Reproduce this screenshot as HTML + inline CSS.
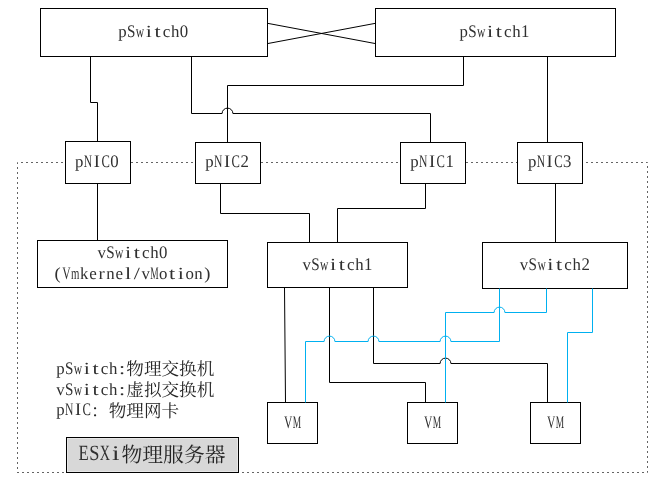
<!DOCTYPE html>
<html lang="zh-CN">
<head>
<meta charset="utf-8">
<title>ESXi network topology</title>
<style>
html,body{margin:0;padding:0;background:#fff;}
body{width:666px;height:493px;overflow:hidden;}
svg{display:block;will-change:transform;}
.ln{fill:none;stroke:#000;stroke-width:1;}
.bl{fill:none;stroke:#00B0F0;stroke-width:1;}
.bx{fill:#fff;stroke:#000;stroke-width:1;}
.dt{fill:none;stroke:#646464;stroke-width:1;stroke-dasharray:2 3;}
text{font-family:"Liberation Serif",serif;fill:#303030;text-rendering:geometricPrecision;}
.t{font-size:17px;}
.b{font-size:20.8px;}
.u{font-size:104.5%;}
.cj{fill:#262626;font-family:"Liberation Serif","Noto Serif CJK SC",serif;}
</style>
</head>
<body>
<svg width="666" height="493" viewBox="0 0 666 493">
<rect x="0" y="0" width="666" height="493" fill="#fff"/>
<path class="dt" d="M17,472.5 H647.5 V162.5 H17.5 V472.5"/>
<g>
<rect class="bx" x="40.5" y="8.5" width="227.0" height="48.0"/>
<rect class="bx" x="375.5" y="8.5" width="240.0" height="48.0"/>
<rect class="bx" x="65.5" y="141.5" width="65.0" height="42.0"/>
<rect class="bx" x="195.5" y="142.5" width="65.0" height="41.0"/>
<rect class="bx" x="400.5" y="142.5" width="65.0" height="41.0"/>
<rect class="bx" x="517.5" y="142.5" width="65.0" height="41.0"/>
<rect class="bx" x="37.5" y="240.5" width="190.0" height="47.0"/>
<rect class="bx" x="267.5" y="242.5" width="140.0" height="45.0"/>
<rect class="bx" x="482.5" y="242.5" width="145.0" height="46.0"/>
<rect class="bx" x="267.5" y="402.5" width="50.0" height="41.0"/>
<rect class="bx" x="407.5" y="402.5" width="50.0" height="41.0"/>
<rect class="bx" x="530.5" y="402.5" width="50.0" height="41.0"/>
</g>
<g class="ln">
<path d="M267.5,23.3 L375.5,43.6"/>
<path d="M267.5,43.6 L375.5,23.3"/>
<path d="M90.5,56.5 V102.5 H97.5 V141.5"/>
<path d="M191.5,56.5 V113.5 H222.1 A5.4,5.4 0 0 1 232.9,113.5 H430.5 V142.5"/>
<path d="M463.5,56.5 V85.5 H227.5 V142.5"/>
<path d="M547.5,56.5 V142.5"/>
<path d="M97.5,183.5 V240.5"/>
<path d="M220.5,183.5 V213.5 H309.5 V242.5"/>
<path d="M425.5,183.5 V208.5 H337.5 V242.5"/>
<path d="M555.5,183.5 V242.5"/>
<path d="M284.5,287.5 L285.5,402.5"/>
<path d="M329.5,287.5 V382.5 H425.5 V402.5"/>
<path d="M373.5,287.5 V363.5 H440.1 A5.4,5.4 0 0 1 450.9,363.5 H547.5 V402.5"/>
</g>
<g class="bl">
<path d="M499.5,288.5 V341.5 H450.9 A5.4,5.4 0 0 0 440.1,341.5 H378.9 A5.4,5.4 0 0 0 368.1,341.5 H334.9 A5.4,5.4 0 0 0 324.1,341.5 H305.5 V402.5"/>
<path d="M546.5,288.5 V312.5 H504.9 A5.4,5.4 0 0 0 494.1,312.5 H445.5 V402.5"/>
<path d="M592.5,288.5 V332.5 H567.5 V402.5"/>
</g>
<rect x="66.5" y="437.5" width="172.0" height="35.0" fill="#D8D8D8" stroke="#000" stroke-width="1"/>
<rect x="67.5" y="438.5" width="170.0" height="33.0" fill="none" stroke="#E7E7E7" stroke-width="1"/>
<text class="t" y="37.3"><tspan x="118.20" textLength="8.40" lengthAdjust="spacingAndGlyphs">p</tspan><tspan class="u" x="127.00" textLength="8.40" lengthAdjust="spacingAndGlyphs">S</tspan><tspan x="135.80" textLength="8.40" lengthAdjust="spacingAndGlyphs">w</tspan><tspan x="145.72" textLength="6.16" lengthAdjust="spacingAndGlyphs">i</tspan><tspan x="154.52" textLength="6.16" lengthAdjust="spacingAndGlyphs">t</tspan><tspan x="162.63" textLength="7.55" lengthAdjust="spacingAndGlyphs">c</tspan><tspan x="171.00" textLength="8.40" lengthAdjust="spacingAndGlyphs">h</tspan><tspan class="u" x="179.80" textLength="8.40" lengthAdjust="spacingAndGlyphs">0</tspan></text>
<text class="t" y="37.3"><tspan x="459.50" textLength="8.40" lengthAdjust="spacingAndGlyphs">p</tspan><tspan class="u" x="468.30" textLength="8.40" lengthAdjust="spacingAndGlyphs">S</tspan><tspan x="477.10" textLength="8.40" lengthAdjust="spacingAndGlyphs">w</tspan><tspan x="487.02" textLength="6.16" lengthAdjust="spacingAndGlyphs">i</tspan><tspan x="495.82" textLength="6.16" lengthAdjust="spacingAndGlyphs">t</tspan><tspan x="503.93" textLength="7.55" lengthAdjust="spacingAndGlyphs">c</tspan><tspan x="512.30" textLength="8.40" lengthAdjust="spacingAndGlyphs">h</tspan><tspan class="u" x="521.10" textLength="8.40" lengthAdjust="spacingAndGlyphs">1</tspan></text>
<text class="t" y="167.2"><tspan x="75.00" textLength="8.40" lengthAdjust="spacingAndGlyphs">p</tspan><tspan class="u" x="83.80" textLength="8.40" lengthAdjust="spacingAndGlyphs">N</tspan><tspan class="u" x="93.72" textLength="6.16" lengthAdjust="spacingAndGlyphs">I</tspan><tspan class="u" x="101.40" textLength="8.40" lengthAdjust="spacingAndGlyphs">C</tspan><tspan class="u" x="110.20" textLength="8.40" lengthAdjust="spacingAndGlyphs">0</tspan></text>
<text class="t" y="167.2"><tspan x="205.20" textLength="8.40" lengthAdjust="spacingAndGlyphs">p</tspan><tspan class="u" x="214.00" textLength="8.40" lengthAdjust="spacingAndGlyphs">N</tspan><tspan class="u" x="223.92" textLength="6.16" lengthAdjust="spacingAndGlyphs">I</tspan><tspan class="u" x="231.60" textLength="8.40" lengthAdjust="spacingAndGlyphs">C</tspan><tspan class="u" x="240.40" textLength="8.40" lengthAdjust="spacingAndGlyphs">2</tspan></text>
<text class="t" y="167.2"><tspan x="410.20" textLength="8.40" lengthAdjust="spacingAndGlyphs">p</tspan><tspan class="u" x="419.00" textLength="8.40" lengthAdjust="spacingAndGlyphs">N</tspan><tspan class="u" x="428.92" textLength="6.16" lengthAdjust="spacingAndGlyphs">I</tspan><tspan class="u" x="436.60" textLength="8.40" lengthAdjust="spacingAndGlyphs">C</tspan><tspan class="u" x="445.40" textLength="8.40" lengthAdjust="spacingAndGlyphs">1</tspan></text>
<text class="t" y="167.2"><tspan x="527.90" textLength="8.40" lengthAdjust="spacingAndGlyphs">p</tspan><tspan class="u" x="536.70" textLength="8.40" lengthAdjust="spacingAndGlyphs">N</tspan><tspan class="u" x="546.62" textLength="6.16" lengthAdjust="spacingAndGlyphs">I</tspan><tspan class="u" x="554.30" textLength="8.40" lengthAdjust="spacingAndGlyphs">C</tspan><tspan class="u" x="563.10" textLength="8.40" lengthAdjust="spacingAndGlyphs">3</tspan></text>
<text class="t" y="257.5"><tspan x="97.50" textLength="8.40" lengthAdjust="spacingAndGlyphs">v</tspan><tspan class="u" x="106.30" textLength="8.40" lengthAdjust="spacingAndGlyphs">S</tspan><tspan x="115.10" textLength="8.40" lengthAdjust="spacingAndGlyphs">w</tspan><tspan x="125.02" textLength="6.16" lengthAdjust="spacingAndGlyphs">i</tspan><tspan x="133.82" textLength="6.16" lengthAdjust="spacingAndGlyphs">t</tspan><tspan x="141.93" textLength="7.55" lengthAdjust="spacingAndGlyphs">c</tspan><tspan x="150.30" textLength="8.40" lengthAdjust="spacingAndGlyphs">h</tspan><tspan class="u" x="159.10" textLength="8.40" lengthAdjust="spacingAndGlyphs">0</tspan></text>
<text class="t" y="278.6"><tspan x="54.62" textLength="6.16" lengthAdjust="spacingAndGlyphs">(</tspan><tspan class="u" x="62.30" textLength="8.40" lengthAdjust="spacingAndGlyphs">V</tspan><tspan x="71.10" textLength="8.40" lengthAdjust="spacingAndGlyphs">m</tspan><tspan x="79.90" textLength="8.40" lengthAdjust="spacingAndGlyphs">k</tspan><tspan x="89.13" textLength="7.55" lengthAdjust="spacingAndGlyphs">e</tspan><tspan x="98.62" textLength="6.16" lengthAdjust="spacingAndGlyphs">r</tspan><tspan x="106.30" textLength="8.40" lengthAdjust="spacingAndGlyphs">n</tspan><tspan x="115.53" textLength="7.55" lengthAdjust="spacingAndGlyphs">e</tspan><tspan x="125.02" textLength="6.16" lengthAdjust="spacingAndGlyphs">l</tspan><tspan x="133.82" textLength="6.16" lengthAdjust="spacingAndGlyphs">/</tspan><tspan x="141.50" textLength="8.40" lengthAdjust="spacingAndGlyphs">v</tspan><tspan class="u" x="150.30" textLength="8.40" lengthAdjust="spacingAndGlyphs">M</tspan><tspan x="159.10" textLength="8.40" lengthAdjust="spacingAndGlyphs">o</tspan><tspan x="169.02" textLength="6.16" lengthAdjust="spacingAndGlyphs">t</tspan><tspan x="177.82" textLength="6.16" lengthAdjust="spacingAndGlyphs">i</tspan><tspan x="185.50" textLength="8.40" lengthAdjust="spacingAndGlyphs">o</tspan><tspan x="194.30" textLength="8.40" lengthAdjust="spacingAndGlyphs">n</tspan><tspan x="204.22" textLength="6.16" lengthAdjust="spacingAndGlyphs">)</tspan></text>
<text class="t" y="269.6"><tspan x="302.50" textLength="8.40" lengthAdjust="spacingAndGlyphs">v</tspan><tspan class="u" x="311.30" textLength="8.40" lengthAdjust="spacingAndGlyphs">S</tspan><tspan x="320.10" textLength="8.40" lengthAdjust="spacingAndGlyphs">w</tspan><tspan x="330.02" textLength="6.16" lengthAdjust="spacingAndGlyphs">i</tspan><tspan x="338.82" textLength="6.16" lengthAdjust="spacingAndGlyphs">t</tspan><tspan x="346.93" textLength="7.55" lengthAdjust="spacingAndGlyphs">c</tspan><tspan x="355.30" textLength="8.40" lengthAdjust="spacingAndGlyphs">h</tspan><tspan class="u" x="364.10" textLength="8.40" lengthAdjust="spacingAndGlyphs">1</tspan></text>
<text class="t" y="270.2"><tspan x="519.80" textLength="8.40" lengthAdjust="spacingAndGlyphs">v</tspan><tspan class="u" x="528.60" textLength="8.40" lengthAdjust="spacingAndGlyphs">S</tspan><tspan x="537.40" textLength="8.40" lengthAdjust="spacingAndGlyphs">w</tspan><tspan x="547.32" textLength="6.16" lengthAdjust="spacingAndGlyphs">i</tspan><tspan x="556.12" textLength="6.16" lengthAdjust="spacingAndGlyphs">t</tspan><tspan x="564.23" textLength="7.55" lengthAdjust="spacingAndGlyphs">c</tspan><tspan x="572.60" textLength="8.40" lengthAdjust="spacingAndGlyphs">h</tspan><tspan class="u" x="581.40" textLength="8.40" lengthAdjust="spacingAndGlyphs">2</tspan></text>
<text class="t" y="428"><tspan class="u" x="283.90" textLength="8.40" lengthAdjust="spacingAndGlyphs">V</tspan><tspan class="u" x="292.70" textLength="8.40" lengthAdjust="spacingAndGlyphs">M</tspan></text>
<text class="t" y="428"><tspan class="u" x="423.90" textLength="8.40" lengthAdjust="spacingAndGlyphs">V</tspan><tspan class="u" x="432.70" textLength="8.40" lengthAdjust="spacingAndGlyphs">M</tspan></text>
<text class="t" y="428"><tspan class="u" x="546.90" textLength="8.40" lengthAdjust="spacingAndGlyphs">V</tspan><tspan class="u" x="555.70" textLength="8.40" lengthAdjust="spacingAndGlyphs">M</tspan></text>
<text class="t" y="373.7"><tspan x="56.20" textLength="8.40" lengthAdjust="spacingAndGlyphs">p</tspan><tspan class="u" x="65.00" textLength="8.40" lengthAdjust="spacingAndGlyphs">S</tspan><tspan x="73.80" textLength="8.40" lengthAdjust="spacingAndGlyphs">w</tspan><tspan x="83.72" textLength="6.16" lengthAdjust="spacingAndGlyphs">i</tspan><tspan x="92.52" textLength="6.16" lengthAdjust="spacingAndGlyphs">t</tspan><tspan x="100.63" textLength="7.55" lengthAdjust="spacingAndGlyphs">c</tspan><tspan x="109.00" textLength="8.40" lengthAdjust="spacingAndGlyphs">h</tspan><tspan x="118.92" textLength="6.16" lengthAdjust="spacingAndGlyphs">:</tspan></text>
<text class="cj" x="126.3" y="375.0" font-size="17.6" textLength="88" lengthAdjust="spacing">物理交换机</text>
<text class="t" y="394.5"><tspan x="56.20" textLength="8.40" lengthAdjust="spacingAndGlyphs">v</tspan><tspan class="u" x="65.00" textLength="8.40" lengthAdjust="spacingAndGlyphs">S</tspan><tspan x="73.80" textLength="8.40" lengthAdjust="spacingAndGlyphs">w</tspan><tspan x="83.72" textLength="6.16" lengthAdjust="spacingAndGlyphs">i</tspan><tspan x="92.52" textLength="6.16" lengthAdjust="spacingAndGlyphs">t</tspan><tspan x="100.63" textLength="7.55" lengthAdjust="spacingAndGlyphs">c</tspan><tspan x="109.00" textLength="8.40" lengthAdjust="spacingAndGlyphs">h</tspan><tspan x="118.92" textLength="6.16" lengthAdjust="spacingAndGlyphs">:</tspan></text>
<text class="cj" x="126.3" y="395.8" font-size="17.6" textLength="88" lengthAdjust="spacing">虚拟交换机</text>
<text class="t" y="415.3"><tspan x="56.20" textLength="8.40" lengthAdjust="spacingAndGlyphs">p</tspan><tspan class="u" x="65.00" textLength="8.40" lengthAdjust="spacingAndGlyphs">N</tspan><tspan class="u" x="74.92" textLength="6.16" lengthAdjust="spacingAndGlyphs">I</tspan><tspan class="u" x="82.60" textLength="8.40" lengthAdjust="spacingAndGlyphs">C</tspan></text>
<text class="cj" x="91.1" y="416.6" font-size="17.6" textLength="88" lengthAdjust="spacing">：物理网卡</text>
<text class="b" y="460.0"><tspan class="u" x="78.44" textLength="10.22" lengthAdjust="spacingAndGlyphs">E</tspan><tspan class="u" x="89.14" textLength="10.22" lengthAdjust="spacingAndGlyphs">S</tspan><tspan class="u" x="99.84" textLength="10.22" lengthAdjust="spacingAndGlyphs">X</tspan><tspan x="111.91" textLength="7.49" lengthAdjust="spacingAndGlyphs">i</tspan></text>
<text class="cj" x="121.5" y="461.6" font-size="20.8" textLength="104" lengthAdjust="spacing">物理服务器</text>
</svg>
</body>
</html>
